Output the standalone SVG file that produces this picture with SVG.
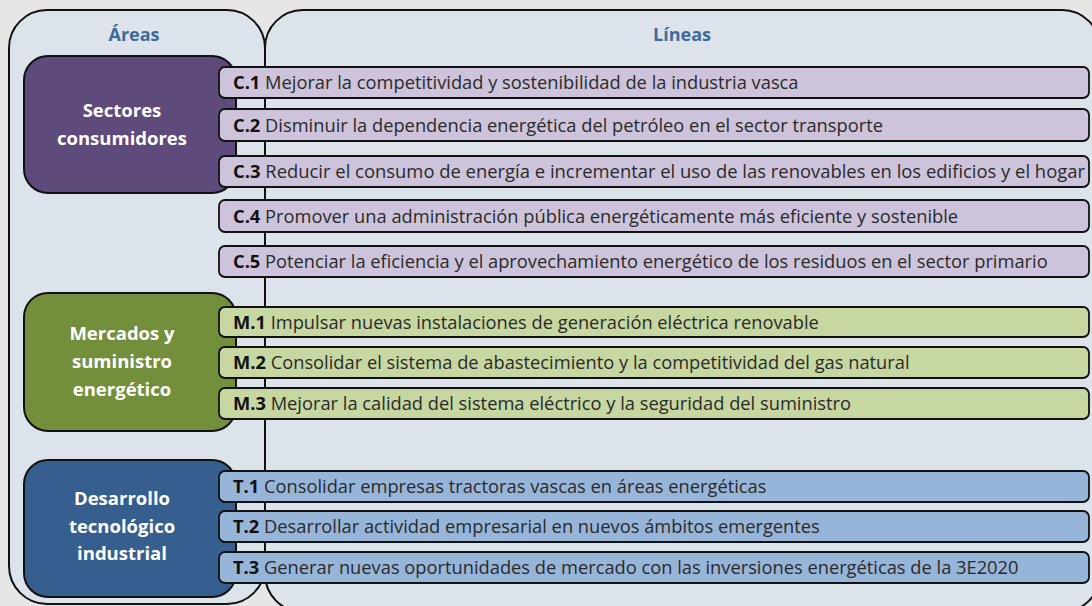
<svg xmlns="http://www.w3.org/2000/svg" width="1092" height="606" viewBox="0 0 1092 606">
<style>
.panel{fill:#dde3eb;stroke:#111;stroke-width:2}
.area{stroke:#111;stroke-width:2}
.hdr{font-family:"Open Sans","Liberation Sans",sans-serif;font-weight:bold;font-size:18px;fill:#3f6b9b;text-anchor:middle}
.at{font-family:"Open Sans","Liberation Sans",sans-serif;font-weight:bold;font-size:18.5px;fill:#fff;text-anchor:middle}
.ln{stroke:#111;stroke-width:1.8}
.c{fill:#cdc4db}
.m{fill:#c7d7a1}
.t{fill:#97b5d9}
.lt{font-family:"Open Sans","Liberation Sans",sans-serif;font-size:18.3px;fill:#2a2a2a}
.lt tspan.b{font-weight:bold;fill:#111}
</style>
<rect x="0" y="0" width="1092" height="606" fill="#e6e6e6"/>
<g id="panels">
<rect class="panel" x="9" y="10" width="256" height="594" rx="38"/>
<rect class="panel" x="265" y="10" width="835" height="602" rx="38"/>
<text class="hdr" x="134" y="41">Áreas</text>
<text class="hdr" x="682" y="41">Líneas</text>
</g>
<g id="area-sectores">
<rect class="area" x="24" y="56" width="212" height="137" rx="24" fill="#5e4a7b"/>
<text class="at" x="122" y="117">Sectores</text>
<text class="at" x="122" y="145">consumidores</text>
</g>
<g id="area-mercados">
<rect class="area" x="24" y="293" width="212" height="138" rx="24" fill="#748f3c"/>
<text class="at" x="122" y="340">Mercados y</text>
<text class="at" x="122" y="368">suministro</text>
<text class="at" x="122" y="396">energético</text>
</g>
<g id="area-desarrollo">
<rect class="area" x="24" y="460" width="212" height="137" rx="24" fill="#365f8f"/>
<text class="at" x="122" y="505">Desarrollo</text>
<text class="at" x="122" y="533">tecnológico</text>
<text class="at" x="122" y="560">industrial</text>
</g>
<g id="line-C1"><rect class="ln c" x="219" y="67" width="870" height="31" rx="6"/><text class="lt" x="233" y="89"><tspan class="b">C.1</tspan> Mejorar la competitividad y sostenibilidad de la industria vasca</text></g>
<g id="line-C2"><rect class="ln c" x="219" y="109" width="870" height="32" rx="6"/><text class="lt" x="233" y="131.5"><tspan class="b">C.2</tspan> Disminuir la dependencia energética del petróleo en el sector transporte</text></g>
<g id="line-C3"><rect class="ln c" x="219" y="156" width="870" height="31" rx="6"/><text class="lt" x="233" y="178" textLength="852" lengthAdjust="spacingAndGlyphs"><tspan class="b">C.3</tspan> Reducir el consumo de energía e incrementar el uso de las renovables en los edificios y el hogar</text></g>
<g id="line-C4"><rect class="ln c" x="219" y="200" width="870" height="32" rx="6"/><text class="lt" x="233" y="222.5"><tspan class="b">C.4</tspan> Promover una administración pública energéticamente más eficiente y sostenible</text></g>
<g id="line-C5"><rect class="ln c" x="219" y="246" width="870" height="31" rx="6"/><text class="lt" x="233" y="268"><tspan class="b">C.5</tspan> Potenciar la eficiencia y el aprovechamiento energético de los residuos en el sector primario</text></g>
<g id="line-M1"><rect class="ln m" x="219" y="307" width="870" height="30" rx="6"/><text class="lt" x="233" y="328.5"><tspan class="b">M.1</tspan> Impulsar nuevas instalaciones de generación eléctrica renovable</text></g>
<g id="line-M2"><rect class="ln m" x="219" y="347" width="870" height="31" rx="6"/><text class="lt" x="233" y="369"><tspan class="b">M.2</tspan> Consolidar el sistema de abastecimiento y la competitividad del gas natural</text></g>
<g id="line-M3"><rect class="ln m" x="219" y="388" width="870" height="31" rx="6"/><text class="lt" x="233" y="410"><tspan class="b">M.3</tspan> Mejorar la calidad del sistema eléctrico y la seguridad del suministro</text></g>
<g id="line-T1"><rect class="ln t" x="219" y="471" width="870" height="31" rx="6"/><text class="lt" x="233" y="493"><tspan class="b">T.1</tspan> Consolidar empresas tractoras vascas en áreas energéticas</text></g>
<g id="line-T2"><rect class="ln t" x="219" y="511" width="870" height="31" rx="6"/><text class="lt" x="233" y="533"><tspan class="b">T.2</tspan> Desarrollar actividad empresarial en nuevos ámbitos emergentes</text></g>
<g id="line-T3"><rect class="ln t" x="219" y="552" width="870" height="31" rx="6"/><text class="lt" x="233" y="574"><tspan class="b">T.3</tspan> Generar nuevas oportunidades de mercado con las inversiones energéticas de la 3E2020</text></g>
</svg>
